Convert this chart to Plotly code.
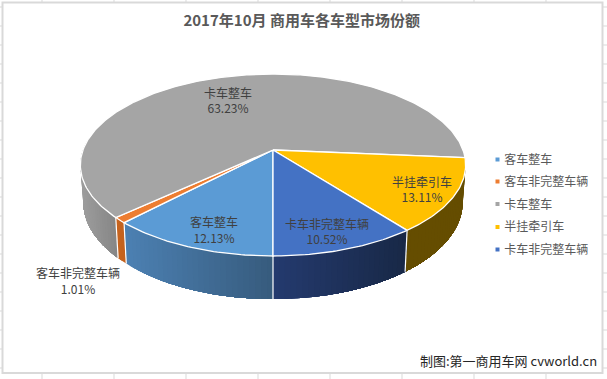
import math
import plotly.graph_objects as go

# ---- data ----
categories = ["客车整车", "客车非完整车辆", "卡车整车", "半挂牵引车", "卡车非完整车辆"]
shares = [12.13, 1.01, 63.23, 13.11, 10.52]
title_text = "2017年10月 商用车各车型市场份额"
credit_text = "制图:第一商用车网 cvworld.cn"

# ---- styles ----
top_colors = ["#5b9bd5", "#ed7d31", "#a5a5a5", "#ffc000", "#4472c4"]
side_left = [(76, 128, 178), (200, 100, 30), (156, 156, 156), (101, 77, 0), (36, 58, 110)]
side_right = [(54, 90, 124), (196, 98, 30), (130, 130, 130), (101, 77, 0), (24, 40, 70)]
label_xy = [(214, 232), (78, 283), (228, 102.5), (422, 191.5), (327, 233.5)]
legend_swatch_y = [159.5, 181.5, 204, 227, 249.5]
FONT = "'Noto Sans CJK SC', 'Microsoft YaHei', sans-serif"

# ---- oblique projection of the pie disc ----
CX, CY = 273, 150
R, S, K = 190, 88.5, 0.165
DEPTH, SHRINK = 36, 0.985


def project(theta_deg, rim="top"):
    t = math.radians(theta_deg)
    u, v = -math.sin(t), math.cos(t)
    d = 1 - K * v
    if rim == "top":
        return CX + R * u / d, CY + S * v / d
    return CX + SHRINK * R * u / d, CY + (S * v + DEPTH) / d


def arc(a0, a1, step=1.0):
    n = max(2, int(abs(a1 - a0) / step) + 1)
    return [a0 + (a1 - a0) * i / (n - 1) for i in range(n)]


edges = [0.0]
for s in shares:
    edges.append(edges[-1] + s / sum(shares) * 360)

fig = go.Figure()


def side_strips(i, a0, a1, x_lo, x_hi):
    """Gradient wall: each band runs to the wall's far end and the next one paints over it."""
    angles = arc(a0, a1, 1.5)
    far = arc(a0, a1, 1.0)
    for p in angles[:-1]:
        rest = [a for a in far if (a > p if a1 > a0 else a < p)] + [a1]
        top = [project(p)] + [project(a) for a in rest]
        bot = [project(a, "b") for a in rest[::-1]] + [project(p, "b")]
        pts = top + bot
        xm = project(p)[0]
        f = min(1, max(0, (xm - x_lo) / (x_hi - x_lo)))
        c = [round(side_left[i][k] + (side_right[i][k] - side_left[i][k]) * f) for k in range(3)]
        col = f"rgb({c[0]},{c[1]},{c[2]})"
        fig.add_trace(go.Scatter(
            x=[pt[0] for pt in pts] + [pts[0][0]], y=[pt[1] for pt in pts] + [pts[0][1]],
            mode="none", fill="toself", fillcolor=col,
            showlegend=False, hoverinfo="skip"))


def wall_divider(a):
    p, q = project(a), project(a, "b")
    fig.add_trace(go.Scatter(x=[p[0], q[0]], y=[p[1], q[1]], mode="lines",
                             line=dict(color="white", width=1.2),
                             showlegend=False, hoverinfo="skip"))


# walls, back to front
side_strips(2, 96, edges[2], 82, 119)
side_strips(3, edges[3], edges[4], 405, 466)
side_strips(1, edges[1], edges[2], 115, 125)
side_strips(0, edges[1], edges[0], 124, 273)
side_strips(4, 360, edges[4], 273, 406)
for a in (edges[0], edges[1], edges[2], edges[4]):
    wall_divider(a)

# top slices
for i, name in enumerate(categories):
    pts = [project(a) for a in arc(edges[i], edges[i + 1])]
    xs = [CX] + [p[0] for p in pts] + [CX]
    ys = [CY] + [p[1] for p in pts] + [CY]
    fig.add_trace(go.Scatter(x=xs, y=ys, mode="lines", fill="toself", fillcolor=top_colors[i],
                             line=dict(color="white", width=1.3), showlegend=False, hoverinfo="skip"))

# data labels
for i, name in enumerate(categories):
    fig.add_trace(go.Scatter(x=[label_xy[i][0]], y=[label_xy[i][1]], mode="text",
                             text=[f"{name}<br>{shares[i]:.2f}%"], textposition="middle center",
                             textfont=dict(family=FONT, size=12, color="#404040"),
                             showlegend=False, hoverinfo="skip"))

# legend entries (text from the legend; its swatches sit closer to the text than plotly allows)
for i, name in enumerate(categories):
    fig.add_trace(go.Scatter(x=[None], y=[None], mode="markers", name=name, legendgroup=name,
                             marker=dict(symbol="square", size=4, color="rgba(0,0,0,0)")))
fig.add_trace(go.Scatter(x=[497.5] * 5, y=legend_swatch_y, mode="markers", showlegend=False, hoverinfo="skip",
                         marker=dict(symbol="square", size=4, color=top_colors, line=dict(width=0))))

# spreadsheet frame and cell ticks around the chart
GRID = "#d9d9d9"
shapes = [dict(type="rect", x0=2.5, y0=2.5, x1=602.5, y1=373, line=dict(color=GRID, width=2), layer="below")]
for x in range(42, 600, 72):
    shapes.append(dict(type="line", x0=x, x1=x, y0=0, y1=2, line=dict(color=GRID, width=1), layer="below"))
    shapes.append(dict(type="line", x0=x, x1=x, y0=373, y1=379, line=dict(color=GRID, width=1), layer="below"))
for y in range(7, 373, 19):
    shapes.append(dict(type="line", x0=0, x1=2, y0=y, y1=y, line=dict(color=GRID, width=1), layer="below"))
    shapes.append(dict(type="line", x0=603, x1=607, y0=y, y1=y, line=dict(color=GRID, width=1), layer="below"))

fig.update_layout(
    width=607, height=379, margin=dict(l=0, r=0, t=0, b=0),
    paper_bgcolor="white", plot_bgcolor="white",
    xaxis=dict(range=[0, 607], visible=False, fixedrange=True),
    yaxis=dict(range=[379, 0], visible=False, fixedrange=True),
    shapes=shapes,
    title=dict(text=f"<b>{title_text}</b>", x=0.497, xanchor="center", y=0.944, yanchor="middle",
               font=dict(family=FONT, size=15, color="#595959")),
    legend=dict(x=0.765, y=0.618, xanchor="left", yanchor="top", bgcolor="rgba(0,0,0,0)",
                font=dict(family=FONT, size=12, color="#595959"), tracegroupgap=3.5,
                itemwidth=30),
    annotations=[dict(text=credit_text, x=599, y=360, xref="x", yref="y", xanchor="right", yanchor="middle",
                      showarrow=False, font=dict(family=FONT, size=13, color="#262626"))],
)
fig.write_html("out.html", post_script="document.body.style.margin='0';", config=dict(displayModeBar=False))
